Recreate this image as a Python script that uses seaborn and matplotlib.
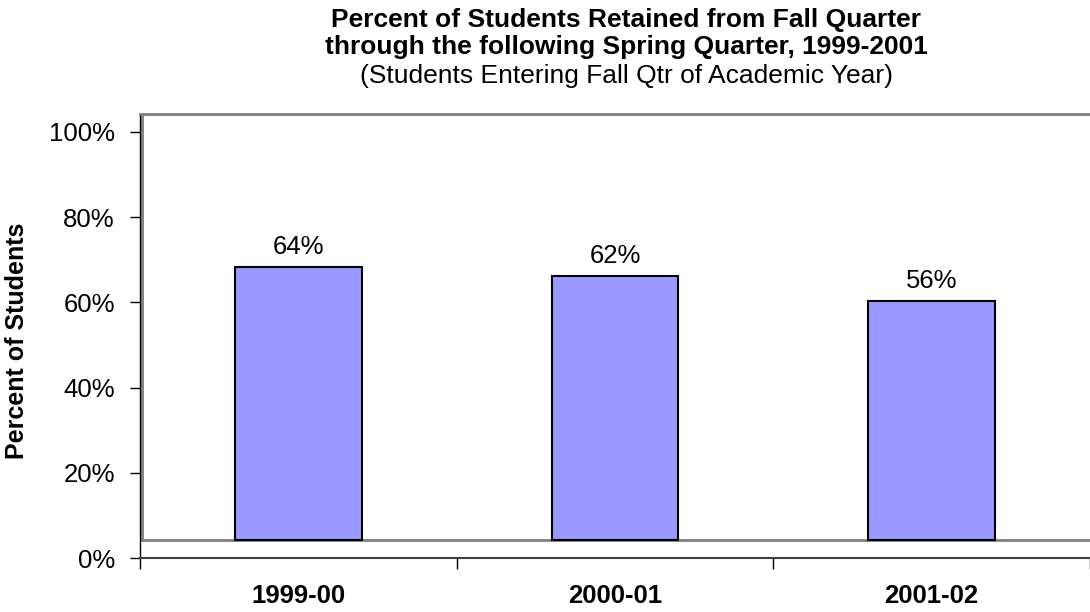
import matplotlib
matplotlib.use("Agg")
import matplotlib.pyplot as plt
import seaborn as sns

# data
years = ["1999-00", "2000-01", "2001-02"]
retained = [64, 62, 56]
y_ticks = [0, 20, 40, 60, 80, 100]
y_tick_labels = ["0%", "20%", "40%", "60%", "80%", "100%"]

# excel-style pseudo 3D floor: bars sit on a raised floor
FLOOR = 4.2
TOP = 104.2
BAR_COLOR = "#9999FF"
GRAY = "#808080"

sns.set_theme(style="white")
plt.rcParams["font.family"] = ["Liberation Sans", "DejaVu Sans"]
plt.rcParams["text.color"] = "black"
plt.rcParams["axes.labelcolor"] = "black"
plt.rcParams["xtick.color"] = "black"
plt.rcParams["ytick.color"] = "black"

fig = plt.figure(figsize=(10.9, 6.12), dpi=100)
ax = fig.add_axes([140 / 1090, 1 - 558 / 612, 950 / 1090, 444 / 612])

sns.barplot(x=years, y=retained, bottom=FLOOR, width=0.4, color=BAR_COLOR,
            edgecolor="black", linewidth=1.5, errorbar=None, saturation=1,
            ax=ax)

ax.bar_label(ax.containers[0], labels=[f"{v}%" for v in retained],
             padding=6, fontsize=18.5, color="black")

# wall + floor lines
ax.axhline(FLOOR, color=GRAY, linewidth=2, zorder=0.5)
ax.axvline(-0.494, ymin=FLOOR / TOP, ymax=1, color=GRAY, linewidth=2, zorder=0.5)

ax.set_xlim(-0.5, 2.5)
ax.set_ylim(0, TOP)

ax.set_yticks(y_ticks)
ax.set_yticklabels(y_tick_labels, fontsize=18.5)
ax.tick_params(axis="y", direction="out", length=7, width=1, pad=11,
               left=True, color="black", labelcolor="black")

ax.set_xticks([-0.5, 0.5, 1.5, 2.5])
ax.set_xticklabels([])
ax.set_xticks(range(len(years)), minor=True)
ax.set_xticklabels(years, minor=True, fontsize=18.5, fontweight="bold")
ax.tick_params(axis="x", which="major", direction="out", length=8, width=1,
               bottom=True, color="black")
ax.tick_params(axis="x", which="minor", length=0, pad=19, labelcolor="black")
ax.set_xlabel("")

ax.set_ylabel("Percent of Students", fontsize=18, fontweight="bold", color="black")
ax.yaxis.set_label_coords(-0.117, 0.489)

ax.spines["right"].set_visible(False)
ax.spines["top"].set_color(GRAY)
ax.spines["top"].set_linewidth(2)
ax.spines["left"].set_color("black")
ax.spines["left"].set_linewidth(1)
ax.spines["bottom"].set_color("#404040")
ax.spines["bottom"].set_linewidth(1.5)

# title block
cx = 626 / 1090
fig.text(cx, 1 - 20 / 612, "Percent of Students Retained from Fall Quarter",
         ha="center", va="center", fontsize=19, fontweight="bold")
fig.text(cx, 1 - 47 / 612, "through the following Spring Quarter, 1999-2001",
         ha="center", va="center", fontsize=19, fontweight="bold")
fig.text(cx, 1 - 76 / 612, "(Students Entering Fall Qtr of Academic Year)",
         ha="center", va="center", fontsize=19)

fig.savefig("out.png", dpi=100)
plt.close(fig)
